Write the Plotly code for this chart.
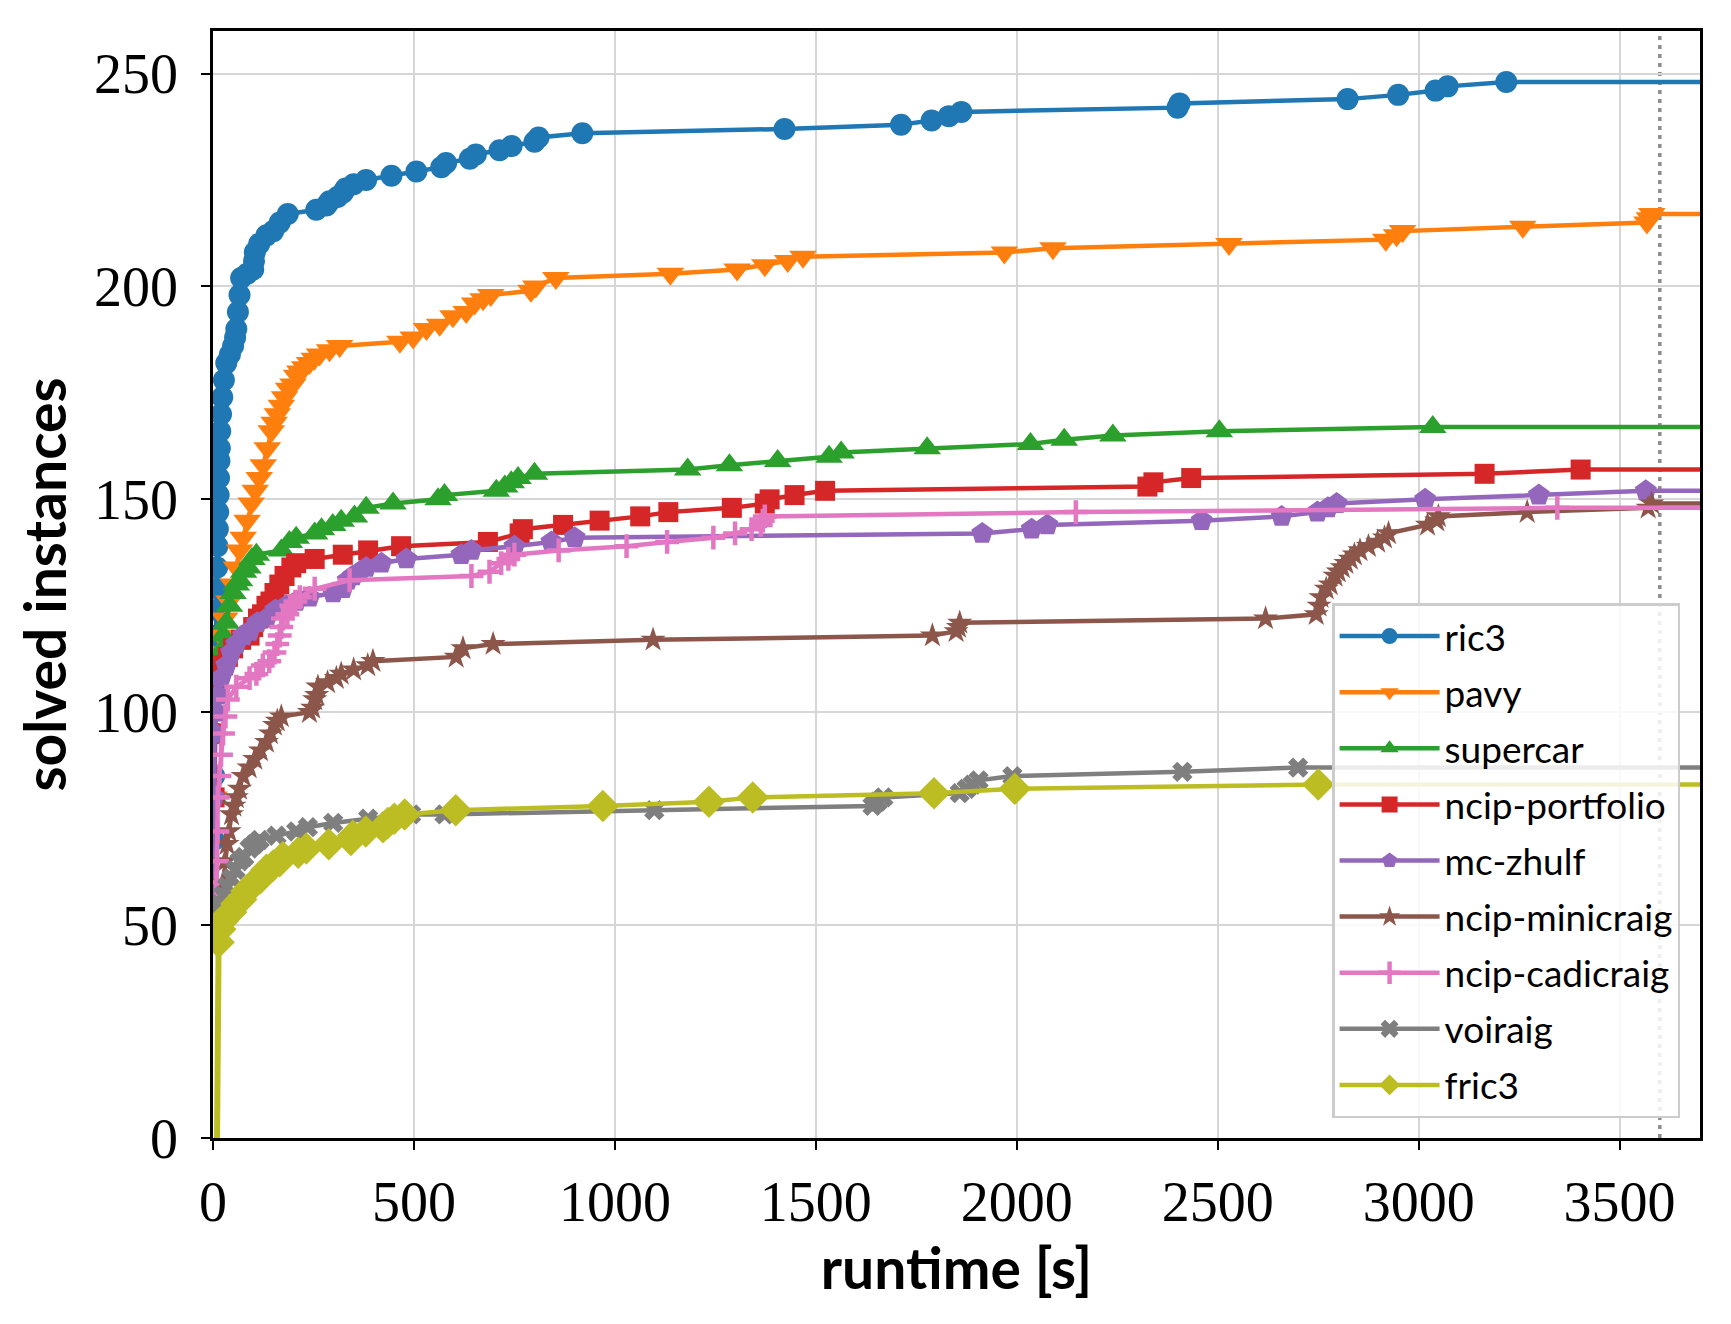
import plotly.graph_objects as go

# ---------------- data (runtime [s], solved instances) ----------------
ric3_t = [1, 2, 3, 4, 5, 6, 7, 8, 9, 10, 11, 12, 13, 14, 15, 16, 17, 18, 20, 23, 27, 33, 42, 50, 55, 58, 62, 66, 70, 85, 100, 102, 104, 115, 133, 150, 166, 186, 257, 282, 290, 310, 323, 330, 350, 381, 444, 506, 568, 580, 639, 654, 713, 743, 800, 810, 919, 1422, 1712, 1788, 1831, 1862, 2400, 2405, 2823, 2949, 3042, 3072, 3218]
ric3_n = [55, 70, 85, 95, 105, 112, 118, 124, 129, 134, 139, 143, 147, 151, 155, 159, 162, 166, 170, 174, 178, 182, 184, 186, 188, 190, 194, 198, 202, 203, 204, 206, 208, 210, 212, 213, 215, 217, 218, 219, 220, 221, 222, 223, 224, 225, 226, 227, 228, 229, 230, 231, 232, 233, 234, 235, 236, 237, 238, 239, 240, 241, 242, 243, 244, 245, 246, 247, 248]

pavy_t = [2, 3, 4, 8, 12, 20, 29, 40, 50, 58, 66, 75, 85, 95, 105, 115, 125, 135, 145, 152, 160, 170, 178, 188, 199, 208, 216, 228, 240, 252, 265, 290, 315, 465, 498, 531, 564, 597, 630, 651, 672, 691, 791, 803, 853, 1138, 1304, 1373, 1430, 1468, 1969, 2090, 2528, 2918, 2945, 2960, 3259, 3568, 3574, 3580]
pavy_n = [55, 80, 108, 111, 114, 118, 122, 126, 130, 134, 138, 141, 145, 149, 152, 155, 158, 162, 166, 168, 170, 172, 174, 176, 177, 179, 180, 181, 182, 183, 184, 185, 186, 187, 188, 190, 191, 193, 194, 196, 197, 198, 199, 200, 202, 203, 204, 205, 206, 207, 208, 209, 210, 211, 212, 213, 214, 215, 216, 217]

supercar_t = [2, 3, 4, 10, 17, 25, 33, 41, 50, 58, 66, 76, 87, 97, 108, 170, 190, 207, 253, 270, 298, 319, 352, 381, 448, 560, 576, 705, 726, 742, 759, 800, 1181, 1285, 1405, 1533, 1563, 1777, 2034, 2118, 2239, 2504, 3035]
supercar_n = [55, 80, 107, 110, 114, 118, 121, 125, 128, 130, 131, 133, 134, 136, 137, 138, 140, 141, 142, 143, 144, 145, 146, 148, 149, 150, 151, 152, 153, 154, 155, 156, 157, 158, 159, 160, 161, 162, 163, 164, 165, 166, 167]

portfolio_t = [3, 4, 5, 8, 15, 25, 37, 50, 70, 91, 100, 112, 122, 133, 143, 153, 165, 178, 195, 207, 253, 323, 386, 468, 684, 763, 771, 871, 962, 1063, 1133, 1291, 1373, 1385, 1447, 1523, 2325, 2340, 2434, 3164, 3403]
portfolio_n = [55, 80, 95, 108, 110, 111, 113, 115, 117, 118, 120, 122, 123, 125, 126, 128, 130, 132, 134, 135, 136, 137, 138, 139, 140, 142, 143, 144, 145, 146, 147, 148, 149, 150, 151, 152, 153, 154, 155, 156, 157]

zhulf_t = [2, 3, 4, 8, 12, 20, 33, 45, 58, 75, 91, 110, 133, 155, 182, 207, 240, 299, 323, 335, 348, 365, 381, 419, 481, 618, 643, 750, 842, 900, 1914, 2037, 2076, 2460, 2659, 2748, 2774, 2796, 3016, 3299, 3565]
zhulf_n = [55, 80, 95, 100, 104, 108, 111, 114, 116, 118, 119, 121, 122, 124, 125, 126, 127, 128, 129, 131, 132, 133, 134, 135, 136, 137, 138, 139, 140, 141, 142, 143, 144, 145, 146, 147, 148, 149, 150, 151, 152]

minicraig_t = [20, 25, 30, 35, 40, 46, 52, 58, 66, 75, 90, 104, 118, 133, 143, 153, 160, 170, 240, 248, 253, 258, 261, 285, 307, 319, 350, 385, 398, 605, 622, 697, 1095, 1790, 1849, 1855, 1858, 2619, 2745, 2752, 2757, 2770, 2780, 2792, 2800, 2810, 2819, 2830, 2840, 2854, 2875, 2898, 2915, 2925, 3022, 3045, 3049, 3270, 3571, 3580]
minicraig_n = [54, 60, 65, 69, 72, 76, 78, 80, 82, 85, 87, 89, 91, 93, 95, 97, 98, 99, 100, 101, 103, 104, 106, 107, 108, 109, 110, 111, 112, 113, 115, 116, 117, 118, 119, 120, 121, 122, 123, 125, 127, 129, 130, 132, 133, 134, 135, 136, 137, 138, 139, 140, 141, 142, 144, 145, 146, 147, 148, 149]

cadicraig_t = [8, 9, 10, 11, 12, 16, 20, 25, 31, 37, 58, 91, 108, 124, 140, 153, 160, 166, 170, 174, 185, 195, 205, 216, 253, 340, 643, 688, 717, 735, 750, 860, 1029, 1130, 1245, 1299, 1340, 1363, 1368, 1373, 2147, 3345]
cadicraig_n = [54, 60, 65, 72, 80, 85, 90, 95, 99, 103, 106, 108, 109, 111, 112, 114, 116, 118, 120, 122, 123, 125, 126, 127, 129, 131, 132, 133, 135, 136, 137, 138, 139, 140, 141, 142, 143, 144, 145, 146, 147, 148]

voiraig_t = [4, 15, 25, 35, 46, 56, 66, 78, 91, 103, 116, 158, 207, 236, 299, 386, 493, 576, 1098, 1641, 1654, 1668, 1858, 1875, 1890, 1905, 1989, 2412, 2700]
voiraig_n = [52, 55, 57, 59, 61, 63, 65, 66, 68, 69, 70, 71, 72, 73, 74, 75, 76, 76, 77, 78, 79, 80, 81, 82, 83, 84, 85, 86, 87]

fric3_t = [14, 18, 25, 33, 45, 58, 70, 83, 94, 104, 118, 133, 150, 166, 174, 212, 232, 288, 343, 348, 380, 423, 435, 451, 477, 604, 970, 1234, 1343, 1794, 1995, 2750]
fric3_n = [46, 49, 51, 52, 53, 55, 56, 58, 59, 60, 61, 63, 64, 65, 66, 67, 68, 69, 70, 71, 72, 73, 74, 75, 76, 77, 78, 79, 80, 81, 82, 83]
fric3_stem_t = 10  # runtime where the fric3 curve leaves 0

x_ticks = [0, 500, 1000, 1500, 2000, 2500, 3000, 3500]
y_ticks = [0, 50, 100, 150, 200, 250]
timeout = 3600
x_max = 3700
y_max = 260

series = [
    ("ric3", ric3_t, ric3_n, "#1f77b4", "circle", 22),
    ("pavy", pavy_t, pavy_n, "#ff7f0e", "triangle-down", 24),
    ("supercar", supercar_t, supercar_n, "#2ca02c", "triangle-up", 24),
    ("ncip-portfolio", portfolio_t, portfolio_n, "#d62728", "square", 20),
    ("mc-zhulf", zhulf_t, zhulf_n, "#9467bd", "pentagon", 23),
    ("ncip-minicraig", minicraig_t, minicraig_n, "#8c564b", "star", 19),
    ("ncip-cadicraig", cadicraig_t, cadicraig_n, "#e377c2", "cross-thin", 17),
    ("voiraig", voiraig_t, voiraig_n, "#7f7f7f", "x", 18),
    ("fric3", fric3_t, fric3_n, "#bcbd22", "diamond", 25),
]

LW = 4.5

fig = go.Figure()

# timeout marker
fig.add_shape(type="line", x0=timeout, x1=timeout, y0=0, y1=1, yref="paper",
              line=dict(color="#8c8c8c", width=3.5, dash="4px,5px"), layer="below")

for i, (name, t, n, color, sym, size) in enumerate(series):
    # horizontal continuation of the curve to the right border (and fric3 stem)
    fig.add_trace(go.Scatter(x=[t[-1], x_max], y=[n[-1], n[-1]], mode="lines",
                             line=dict(color=color, width=LW),
                             showlegend=False, hoverinfo="skip"))
    if name == "fric3":
        fig.add_trace(go.Scatter(x=[fric3_stem_t, t[0]], y=[0, n[0]], mode="lines",
                                 line=dict(color=color, width=6),
                                 showlegend=False, hoverinfo="skip"))
    marker = dict(symbol=sym, size=size, color=color)
    if sym == "cross-thin":
        marker["line"] = dict(color=color, width=4.5)
    fig.add_trace(go.Scatter(x=t, y=n, mode="lines+markers", name=name,
                             legendgroup=name,
                             line=dict(color=color, width=LW),
                             marker=marker, cliponaxis=True))

axis_common = dict(
    showline=True, linecolor="black", linewidth=2.5, mirror=True,
    ticks="outside", ticklen=9, tickwidth=2.2, tickcolor="black",
    showgrid=True, gridcolor="#d6d6d6", gridwidth=2.4, zeroline=False,
    tickfont=dict(family="Liberation Serif", size=56, color="black"),
)

fig.update_layout(
    width=1731, height=1324,
    margin=dict(l=205, r=39, t=23, b=194),
    paper_bgcolor="white", plot_bgcolor="white",
    xaxis=dict(range=[0, x_max], tickvals=x_ticks, ticklabelstandoff=4,
               title=dict(text="<b>runtime [s]</b>", standoff=4,
                          font=dict(family="Lato", size=57, color="black")),
               **axis_common),
    yaxis=dict(range=[0, y_max], tickvals=y_ticks, ticklabelstandoff=12,
               title=dict(text="<b>solved instances</b>", standoff=10,
                          font=dict(family="Lato", size=57, color="black")),
               **axis_common),
    legend=dict(x=0.9866, xanchor="right", y=0.018, yanchor="bottom",
                bgcolor="rgba(255,255,255,0.85)", bordercolor="#cccccc", borderwidth=2.5,
                font=dict(family="Lato", size=37, color="black"),
                itemwidth=100, tracegroupgap=5, traceorder="grouped"),
)

fig.write_html("out.html")
